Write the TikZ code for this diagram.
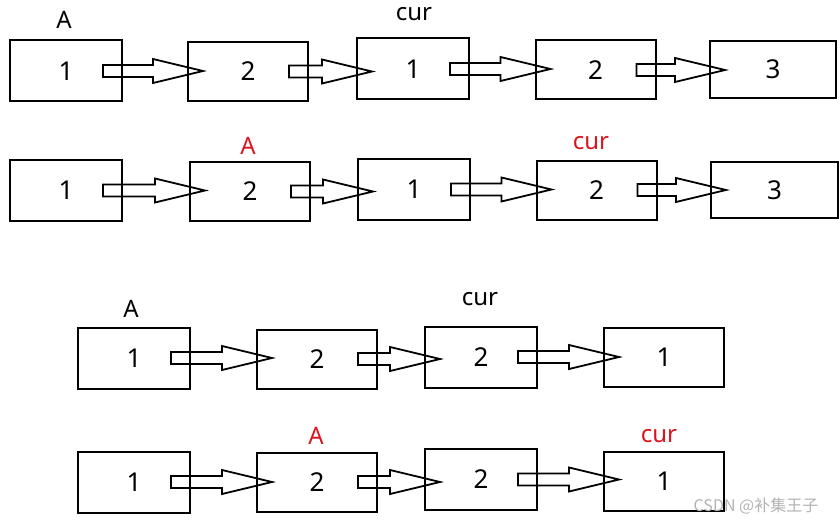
\documentclass[tikz,border=0pt]{standalone}
\usepackage{fontspec}
\setmainfont{Noto Sans}
\newfontfamily\cjkfont{Noto Sans CJK SC}
\usepackage{xcolor}
\usetikzlibrary{calc}
\definecolor{tagred}{RGB}{220,20,30}

% hollow pointer from the inside of one cell into the next
\newcommand{\nextptr}[2]{%
  \draw[ptr] let \p1=($(#1.east)+(-20pt,0)$), \p2=($(#2.west)+(16pt,0)$) in
    (\x1,\y1+6pt) -- (\x2-50pt,\y1+6pt) -- (\x2-50pt,\y1+12pt) -- (\x2,\y1)
    -- (\x2-50pt,\y1-12pt) -- (\x2-50pt,\y1-6pt) -- (\x1,\y1-6pt) -- cycle;
}

\begin{document}
\begin{tikzpicture}[
    x=1pt, y=-1pt,
    cell/.style={rectangle, draw, line width=2pt, inner sep=0pt,
                 minimum width=112pt, minimum height=61pt, font=\fontsize{26}{30}\selectfont},
    widecell/.style={cell, minimum width=120pt, minimum height=59pt},
    tag/.style={inner sep=0pt, font=\fontsize{24}{28}\selectfont},
    redtag/.style={tag, text=tagred},
    ptr/.style={line width=1.8pt, line join=miter}
]
  \useasboundingbox (0,0) rectangle (840,524);

  % Row 1
  \node[cell] (r1a) at (66,71) {1};
  \node[widecell] (r1b) at (248,71.5) {2};
  \node[cell] (r1c) at (413,69) {1};
  \node[widecell] (r1d) at (595.5,70) {2};
  \node[cell, minimum width=126pt, minimum height=57pt] (r1e) at (773,69.5) {3};
  \node[tag] (A1) at (64,20) {A};
  \node[tag] (cur1) at (414,14) {cur};

  % Row 2
  \node[cell] (r2a) at (66,190.5) {1};
  \node[widecell] (r2b) at (250,191.5) {2};
  \node[cell] (r2c) at (414,189.5) {1};
  \node[widecell] (r2d) at (596.5,190) {2};
  \node[cell, minimum width=127pt, minimum height=56pt] (r2e) at (774.5,190) {3};
  \node[redtag] (A2) at (248,146) {A};
  \node[redtag] (cur2) at (591,143) {cur};

  % Row 3
  \node[cell] (r3a) at (134,358) {1};
  \node[widecell] (r3b) at (317,359) {2};
  \node[cell] (r3c) at (481,357) {2};
  \node[widecell] (r3d) at (664,357.5) {1};
  \node[tag] (A3) at (131,309) {A};
  \node[tag] (cur3) at (480,299) {cur};

  % Row 4
  \node[cell] (r4a) at (134,482) {1};
  \node[widecell] (r4b) at (317,482) {2};
  \node[cell] (r4c) at (481,479.5) {2};
  \node[widecell] (r4d) at (664,481.5) {1};
  \node[redtag] (A4) at (316,436) {A};
  \node[redtag] (cur4) at (659,436) {cur};

  % Pointers
  \nextptr{r1a}{r1b} \nextptr{r1b}{r1c} \nextptr{r1c}{r1d} \nextptr{r1d}{r1e}
  \nextptr{r2a}{r2b} \nextptr{r2b}{r2c} \nextptr{r2c}{r2d} \nextptr{r2d}{r2e}
  \nextptr{r3a}{r3b} \nextptr{r3b}{r3c} \nextptr{r3c}{r3d}
  \nextptr{r4a}{r4b} \nextptr{r4b}{r4c} \nextptr{r4c}{r4d}

  \node[inner sep=0pt, text=black!30, font=\cjkfont\fontsize{16}{18}\selectfont] (mark) at (756,506) {CSDN @补集王子};
\end{tikzpicture}
\end{document}
